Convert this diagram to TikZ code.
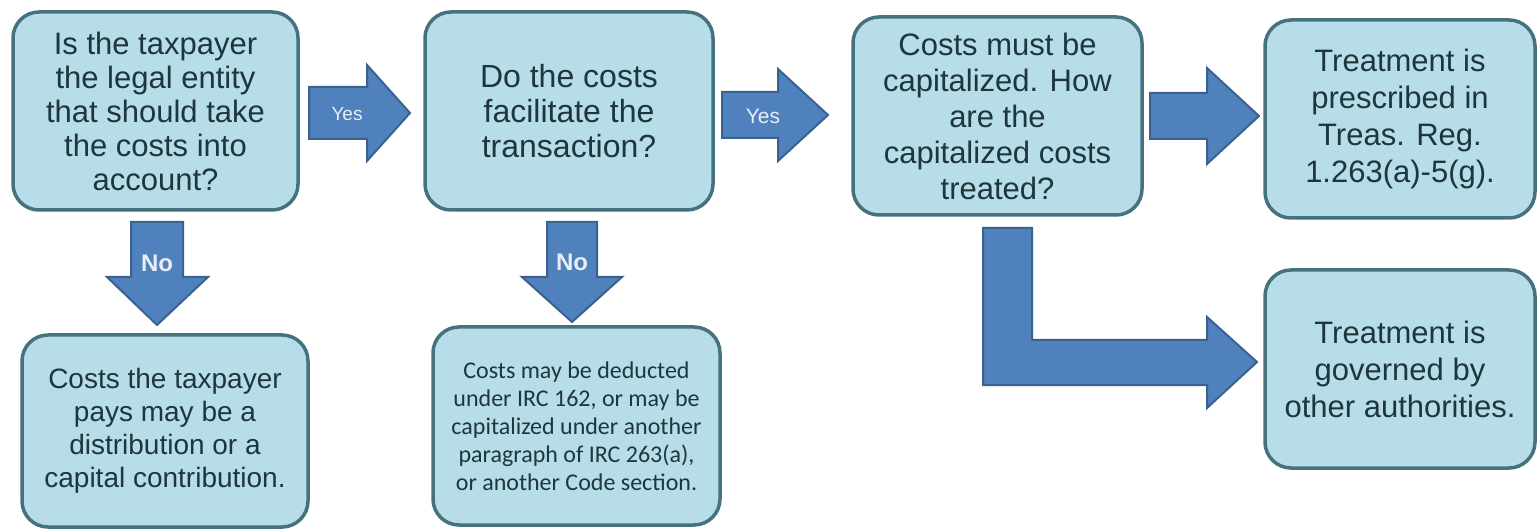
\documentclass[tikz,border=0pt]{standalone}
\usepackage{fontspec}
\setmainfont{Liberation Sans}
\newfontfamily\carlito{Carlito}
\definecolor{boxfill}{HTML}{B7DDE8}
\definecolor{boxline}{HTML}{46727F}
\definecolor{boxtext}{HTML}{1E363C}
\definecolor{arrowfill}{HTML}{4F81BD}
\definecolor{arrowline}{HTML}{3B6190}
\definecolor{labeltext}{HTML}{E8EEF6}
\tikzset{
  stepbox/.style={draw=boxline, fill=boxfill, line width=3.5pt,
    rounded corners=26pt, align=center, text=boxtext, inner sep=0pt,
    font=\fontsize{31}{36}\selectfont},
  blockarrow/.style={draw=arrowline, fill=arrowfill, line width=2pt},
  arrowlabel/.style={text=labeltext, inner sep=0pt}
}
\begin{document}
\begin{tikzpicture}[x=1pt,y=-1pt]
  \useasboundingbox (0,0) rectangle (1537,529);
  % question boxes along the top
  \node[stepbox, minimum width=285, minimum height=198,
    font=\fontsize{31}{34}\selectfont] (entity) at (155.5,111)
    {Is the taxpayer\\the legal entity\\that should take\\the costs into\\account?};
  \node[stepbox, minimum width=288, minimum height=198,
    font=\fontsize{32}{35}\selectfont] (facilitate) at (569,111)
    {Do the costs\\facilitate the\\transaction?};
  \node[stepbox, minimum width=289, minimum height=198] (capitalize) at (997.5,116)
    {Costs must be\\capitalized. How\\are the\\capitalized costs\\treated?};
  % outcomes
  \node[stepbox, minimum width=270, minimum height=198,
    font=\fontsize{31}{37}\selectfont] (prescribed) at (1400,119)
    {Treatment is\\prescribed in\\Treas. Reg.\\1.263(a)-5(g).};
  \node[stepbox, minimum width=270, minimum height=198,
    font=\fontsize{31}{37}\selectfont] (governed) at (1400,369)
    {Treatment is\\governed by\\other authorities.};
  \node[stepbox, minimum width=286, minimum height=192,
    font=\fontsize{28}{33}\selectfont] (distribution) at (165,431)
    {Costs the taxpayer\\pays may be a\\distribution or a\\capital contribution.};
  \node[stepbox, minimum width=287, minimum height=198,
    font=\carlito\fontsize{24}{28}\selectfont] (deduct) at (576.5,426)
    {Costs may be deducted\\under IRC 162, or may be\\capitalized under another\\paragraph of IRC 263(a),\\or another Code section.};

  % block arrows
  \draw[blockarrow] (309,87) -- (367,87) -- (367,65) -- (410,113)
    -- (367,161) -- (367,139) -- (309,139) -- cycle;
  \draw[blockarrow] (722,92) -- (778,92) -- (778,69) -- (828,115)
    -- (778,161) -- (778,138) -- (722,138) -- cycle;
  \draw[blockarrow] (1150,93) -- (1207,93) -- (1207,68) -- (1259,116)
    -- (1207,164) -- (1207,139) -- (1150,139) -- cycle;
  \draw[blockarrow] (131,222) -- (183,222) -- (183,277) -- (208,277)
    -- (157,325) -- (107,277) -- (131,277) -- cycle;
  \draw[blockarrow] (547,222) -- (597,222) -- (597,277) -- (622,277)
    -- (572,322) -- (522,277) -- (547,277) -- cycle;
  \draw[blockarrow] (983,228) -- (1032,228) -- (1032,340) -- (1207,340)
    -- (1207,317) -- (1257,362) -- (1207,408) -- (1207,385) -- (983,385) -- cycle;

  \node[arrowlabel, font=\fontsize{19}{19}\selectfont] (yes1) at (347,114) {Yes};
  \node[arrowlabel, font=\fontsize{21}{21}\selectfont] (yes2) at (763,116) {Yes};
  \node[arrowlabel, font=\bfseries\fontsize{24}{24}\selectfont] (no1) at (157,263) {No};
  \node[arrowlabel, font=\bfseries\fontsize{24}{24}\selectfont] (no2) at (572,262) {No};
\end{tikzpicture}
\end{document}
